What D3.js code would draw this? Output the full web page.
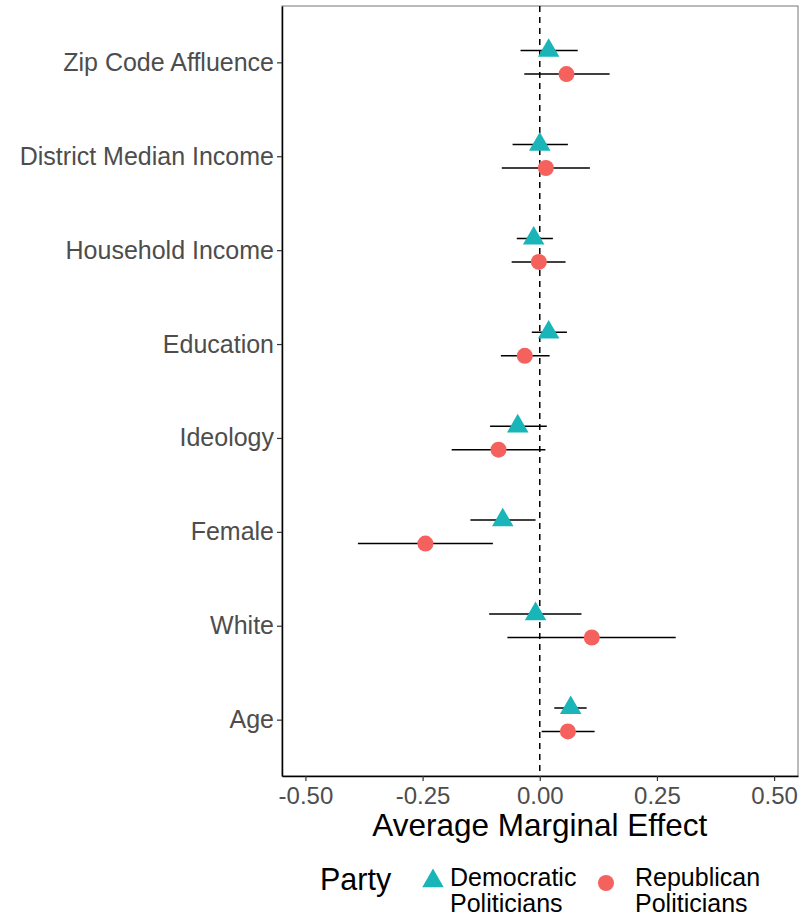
<!DOCTYPE html>
<html>
<head>
<meta charset="utf-8">
<script src="https://cdn.jsdelivr.net/npm/d3@7"></script>
<style>
  body { margin: 0; background: #fff; }
  svg { font-family: "Liberation Sans", Arial, sans-serif; }
</style>
</head>
<body>
<div id="chart"></div>
<script>
// categories, top to bottom
var categories = ["Zip Code Affluence", "District Median Income", "Household Income",
  "Education", "Ideology", "Female", "White", "Age"];

// Democratic politicians: estimate, lower, upper
var demEst = [0.019, 0.000, -0.013, 0.019, -0.047, -0.079, -0.009, 0.066];
var demLo  = [-0.041, -0.058, -0.049, -0.017, -0.106, -0.148, -0.108, 0.031];
var demHi  = [0.081, 0.060, 0.028, 0.058, 0.015, -0.009, 0.089, 0.100];

// Republican politicians
var repEst = [0.057, 0.013, -0.002, -0.032, -0.088, -0.244, 0.111, 0.060];
var repLo  = [-0.033, -0.081, -0.060, -0.083, -0.188, -0.388, -0.069, 0.004];
var repHi  = [0.149, 0.107, 0.055, 0.021, 0.012, -0.100, 0.290, 0.117];

var xTicks = [-0.5, -0.25, 0, 0.25, 0.5];
var xTickLabels = ["-0.50", "-0.25", "0.00", "0.25", "0.50"];
var parties = ["Democratic Politicians", "Republican Politicians"];
var colors = ["#19b5b8", "#f5615c"];

var W = 809, H = 918;
var margin = {top: 6, right: 11, bottom: 142, left: 282};
var width = W - margin.left - margin.right,
    height = H - margin.top - margin.bottom;

var rows = [];
categories.forEach(function (c, i) {
  rows.push({cat: c, party: 0, est: demEst[i], lo: demLo[i], hi: demHi[i]});
  rows.push({cat: c, party: 1, est: repEst[i], lo: repLo[i], hi: repHi[i]});
});

var svg = d3.select("#chart").append("svg")
  .attr("width", W).attr("height", H);
var g = svg.append("g").attr("transform", `translate(${margin.left},${margin.top})`);

var x = d3.scaleLinear().domain([-0.55, 0.551]).range([0, width]);
var y = d3.scalePoint().domain(categories).range([0, height]).padding(0.6);
var dodge = y.step() * 0.125;
var yPos = d => y(d.cat) + (d.party === 0 ? -dodge : dodge);

// panel border
g.append("rect").attr("width", width).attr("height", height)
  .attr("fill", "none").attr("stroke", "#777").attr("stroke-width", 1);

// zero line
g.append("line")
  .attr("x1", x(0)).attr("x2", x(0)).attr("y1", 0).attr("y2", height)
  .attr("stroke", "#000").attr("stroke-width", 1.5)
  .attr("stroke-dasharray", "6,5");

// error bars
g.selectAll(".err").data(rows).join("line")
  .attr("class", "err")
  .attr("x1", d => x(d.lo)).attr("x2", d => x(d.hi))
  .attr("y1", yPos).attr("y2", yPos)
  .attr("stroke", "#000").attr("stroke-width", 1.5);

// points
var tri = d3.symbol().type(d3.symbolTriangle).size(200);
var dot = d3.symbol().type(d3.symbolCircle).size(201);
g.selectAll(".pt").data(rows).join("path")
  .attr("class", "pt")
  .attr("transform", d => `translate(${x(d.est)},${yPos(d)})`)
  .attr("d", d => d.party === 0 ? tri() : dot())
  .attr("fill", d => colors[d.party]);

// axes
var xAxis = g.append("g").attr("transform", `translate(0,${height})`)
  .call(d3.axisBottom(x).tickValues(xTicks)
    .tickFormat((d, i) => xTickLabels[i]).tickSize(5).tickSizeOuter(0));
xAxis.select(".domain").attr("stroke", "#000").attr("stroke-width", 1.5);
xAxis.selectAll(".tick line").attr("stroke", "#333").attr("stroke-width", 1.2);
xAxis.selectAll(".tick text").attr("fill", "#4d4d4d").style("font-size", "24px").attr("dy", "0.85em");

var yAxis = g.append("g")
  .call(d3.axisLeft(y).tickSize(5).tickSizeOuter(0).tickPadding(3));
yAxis.select(".domain").attr("stroke", "#000").attr("stroke-width", 1.5);
yAxis.selectAll(".tick line").attr("stroke", "#333").attr("stroke-width", 1.2);
yAxis.selectAll(".tick text").attr("fill", "#4d4d4d").style("font-size", "25px");

// x title
svg.append("text")
  .attr("x", margin.left + x(0)).attr("y", 836)
  .attr("text-anchor", "middle")
  .style("font-size", "31.5px").attr("fill", "#000")
  .text("Average Marginal Effect");

// legend
var leg = svg.append("g");
leg.append("text").attr("x", 320).attr("y", 890)
  .style("font-size", "30.5px").attr("fill", "#000").text("Party");
var legX = [433, 606];
var legTextX = [450, 635];
parties.forEach(function (p, i) {
  leg.append("path").attr("d", i === 0 ? tri() : dot())
    .attr("transform", `translate(${legX[i]},${i === 0 ? 881 : 883})`)
    .attr("fill", colors[i]);
  var words = p.split(" ");
  var t = leg.append("text").style("font-size", "25px").attr("fill", "#000");
  t.append("tspan").attr("x", legTextX[i]).attr("y", 886).text(words[0]);
  t.append("tspan").attr("x", legTextX[i]).attr("y", 912).text(words[1]);
});
</script>
</body>
</html>
